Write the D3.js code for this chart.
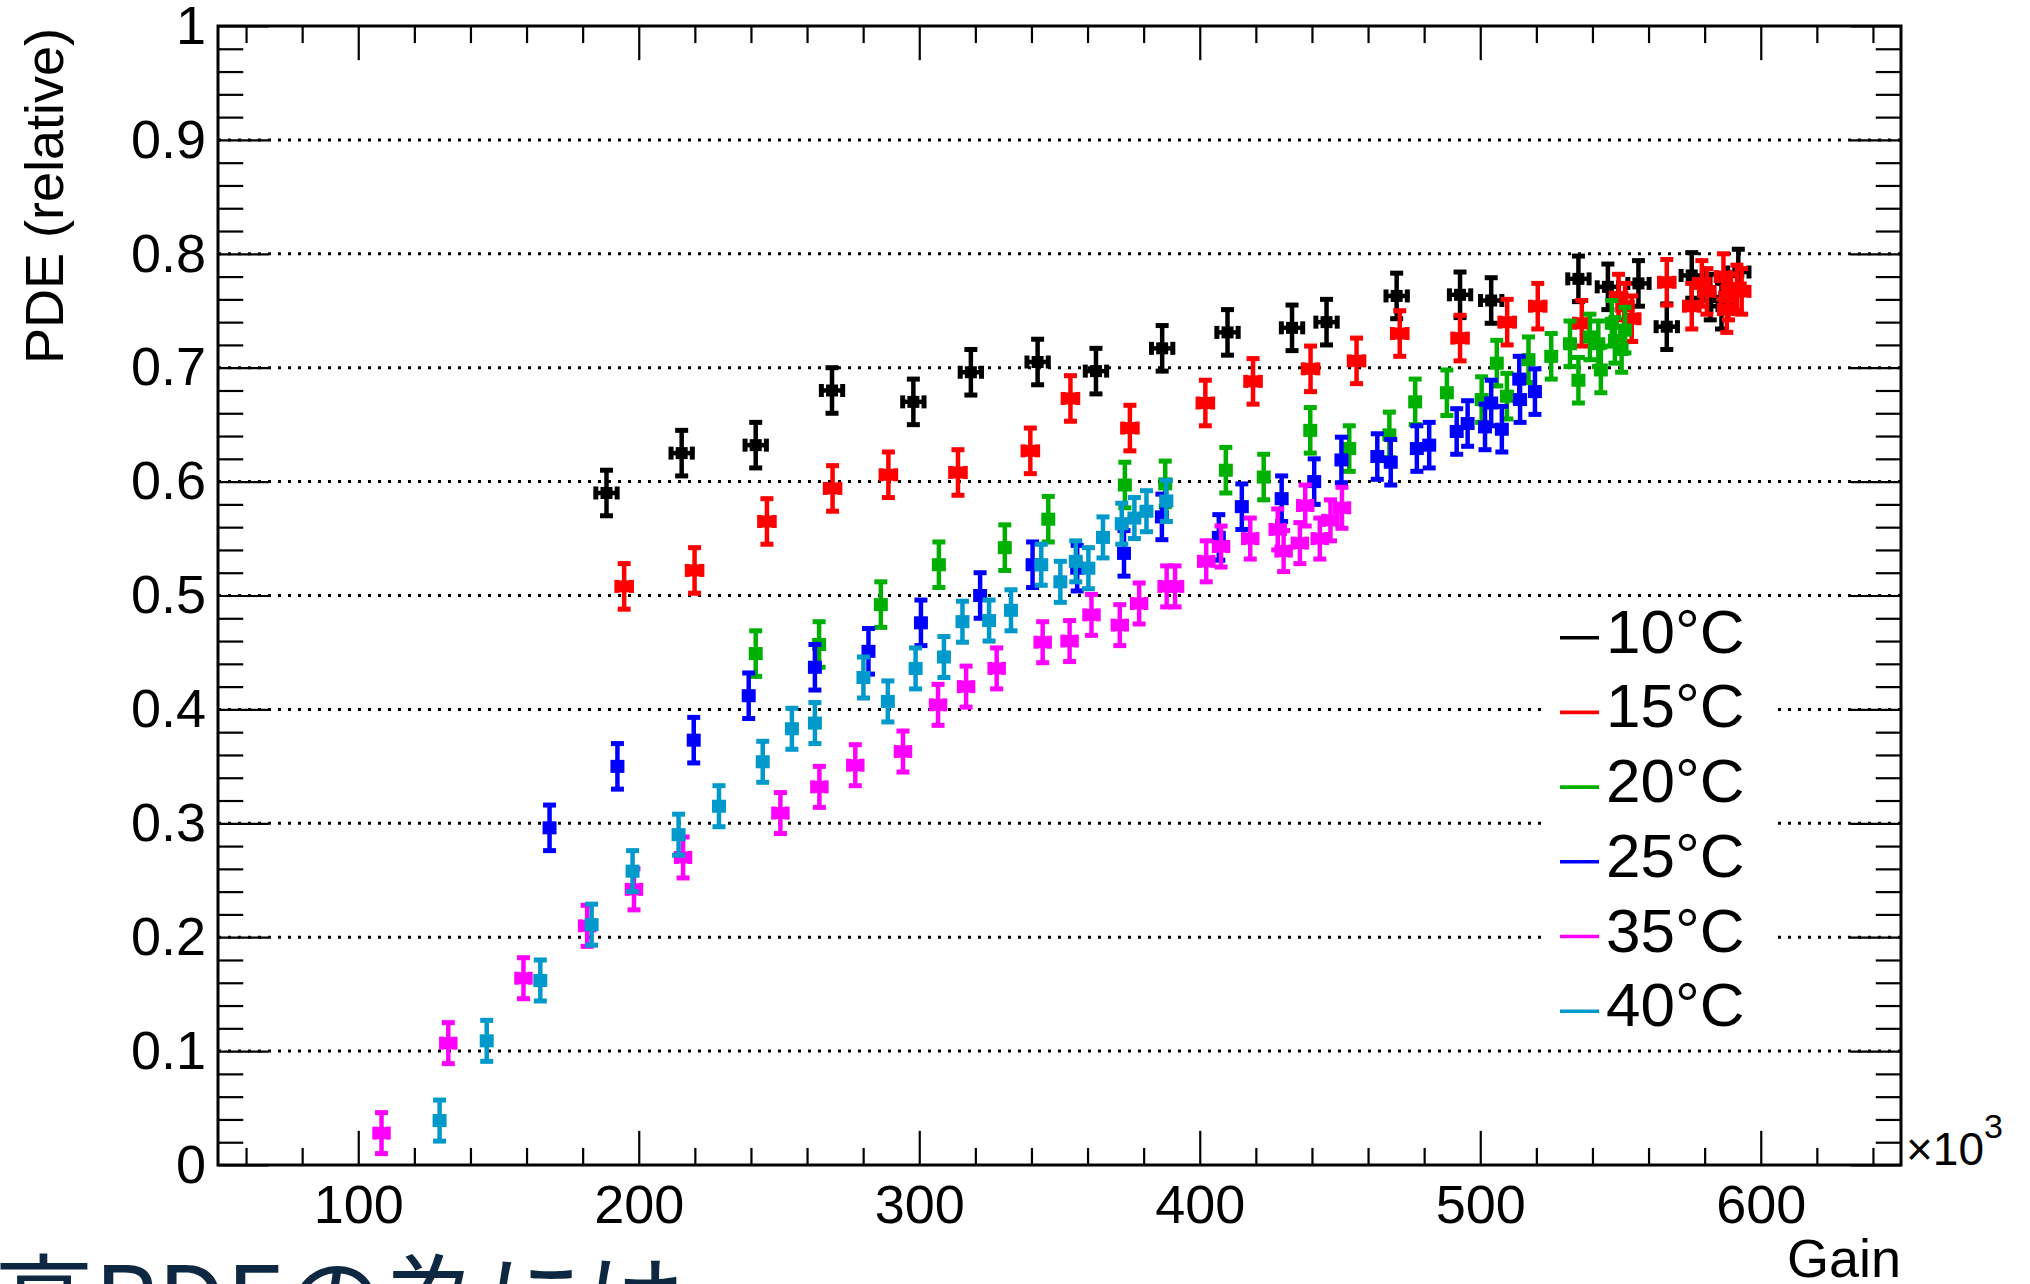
<!DOCTYPE html>
<html>
<head>
<meta charset="utf-8">
<script src="https://cdn.jsdelivr.net/npm/d3@7"></script>
<style>
  html, body { margin: 0; padding: 0; background: #fff; overflow: hidden; }
  svg { display: block; font-family: "Liberation Sans", Arial, Helvetica, sans-serif; }
</style>
</head>
<body>
<div id="chart"></div>
<script>
// data, gain in units of 10^3
var temps = ['10°C', '15°C', '20°C', '25°C', '35°C', '40°C'];
var colors = ['#000000', '#ff0000', '#00b000', '#0000ff', '#ff00ff', '#0099cc'];

var gain10 = [188.5, 215.3, 241.7, 268.9, 297.9, 318.4, 342.2, 363, 386.6, 409.9, 432.9, 445.2, 470.2, 492.8, 503.9, 535, 545.5, 556.4, 566.5, 575.4, 582, 586, 592];
var pde10  = [0.590, 0.625, 0.632, 0.680, 0.670, 0.696, 0.705, 0.697, 0.717, 0.731, 0.735, 0.740, 0.763, 0.764, 0.759, 0.778, 0.771, 0.774, 0.736, 0.781, 0.762, 0.754, 0.784];

var gain15 = [194.8, 219.9, 245.7, 269.1, 289, 313.8, 339.6, 353.9, 375.1, 402, 419, 439.5, 455.9, 471.3, 492.8, 509.6, 520.5, 536.2, 549.3, 551.6, 554, 566.5, 575.4, 579, 580.8, 586.7, 587.9, 588.5, 591.5, 593.2];
var pde15  = [0.508, 0.522, 0.565, 0.594, 0.606, 0.608, 0.627, 0.673, 0.647, 0.669, 0.688, 0.699, 0.706, 0.730, 0.726, 0.740, 0.754, 0.739, 0.762, 0.754, 0.743, 0.775, 0.754, 0.774, 0.767, 0.780, 0.751, 0.762, 0.770, 0.767];

var gain20 = [241.7, 264.3, 286.3, 307, 330.5, 346, 373.3, 387.7, 409.3, 422.8, 439.4, 453.3, 467.6, 476.8, 488.1, 500.5, 505.9, 509.5, 517.2, 525.3, 532, 535, 539.1, 542.1, 543, 546.9, 548, 550.4, 551.6];
var pde20  = [0.449, 0.457, 0.492, 0.527, 0.542, 0.567, 0.597, 0.598, 0.610, 0.604, 0.645, 0.629, 0.641, 0.670, 0.678, 0.672, 0.704, 0.675, 0.707, 0.710, 0.721, 0.689, 0.727, 0.721, 0.698, 0.739, 0.724, 0.716, 0.733];

var gain25 = [168.2, 192.4, 219.6, 239.2, 262.8, 281.9, 300.6, 321.7, 340.4, 356.3, 373, 386.5, 406.8, 415, 429.2, 440.8, 450.5, 463.3, 468.1, 477.4, 481.8, 491.6, 495.5, 501.7, 503.9, 507.7, 513.9, 514.2, 519.5];
var pde25  = [0.296, 0.350, 0.373, 0.412, 0.437, 0.451, 0.476, 0.500, 0.527, 0.524, 0.537, 0.569, 0.551, 0.578, 0.585, 0.600, 0.619, 0.622, 0.617, 0.629, 0.632, 0.644, 0.651, 0.648, 0.669, 0.646, 0.690, 0.672, 0.679];

var gain35 = [108.3, 132.1, 158.9, 181.6, 198.3, 215.8, 250.5, 264.4, 277.2, 294.2, 306.7, 316.7, 327.6, 344, 353.6, 361.4, 371.5, 378.4, 388.2, 391.2, 402.3, 407.6, 418, 427.8, 429.9, 435.7, 437.6, 442.8, 446.6, 450.7];
var pde35  = [0.028, 0.107, 0.164, 0.210, 0.242, 0.270, 0.309, 0.332, 0.351, 0.363, 0.404, 0.420, 0.436, 0.459, 0.460, 0.483, 0.474, 0.493, 0.508, 0.508, 0.530, 0.543, 0.550, 0.558, 0.539, 0.546, 0.579, 0.550, 0.566, 0.577];

var gain40 = [129, 145.8, 164.9, 183.2, 197.8, 214.2, 228.6, 244.2, 254.6, 262.8, 280.1, 288.8, 298.7, 308.8, 315.4, 324.9, 332.7, 343.5, 350.3, 355.8, 360.3, 365.5, 372.2, 376.7, 381, 388.1];
var pde40  = [0.039, 0.109, 0.162, 0.211, 0.258, 0.290, 0.315, 0.354, 0.383, 0.388, 0.428, 0.407, 0.436, 0.446, 0.477, 0.478, 0.487, 0.527, 0.512, 0.530, 0.524, 0.551, 0.563, 0.568, 0.574, 0.583];

// error sizes per series (x in 10^3, y in PDE)
var xErr = [3.8, 2.6, 1.6, 1.6, 2.4, 1.6];
var yErr = [0.020, 0.020, 0.020, 0.020, 0.018, 0.018];

// axis ticks
var xMajor = [100, 200, 300, 400, 500, 600];
var yMajor = [0, 0.1, 0.2, 0.3, 0.4, 0.5, 0.6, 0.7, 0.8, 0.9, 1];

(function(window, d3){

    var W = 2030, H = 1284;
    var frame = {left: 218, right: 1901, top: 26, bottom: 1165};

    var gains = [gain10, gain15, gain20, gain25, gain35, gain40];
    var pdes = [pde10, pde15, pde20, pde25, pde35, pde40];

    //build series from the arrays
    var series = temps.map(function(t, i){
        return {
            name: t,
            color: colors[i],
            xe: xErr[i],
            ye: yErr[i],
            points: gains[i].map(function(g, j){ return {g: g, p: pdes[i][j]}; })
        };
    });

    var svg = d3.select('#chart').append('svg')
        .attr('width', W)
        .attr('height', H)
        .attr('viewBox', '0 0 ' + W + ' ' + H);

    svg.append('rect').attr('width', W).attr('height', H).attr('fill', '#fff');

    var x = d3.scaleLinear().domain([50, 650]).range([frame.left, frame.right]);
    var y = d3.scaleLinear().domain([0, 1]).range([frame.bottom, frame.top]);

    var pw = frame.right - frame.left,
        ph = frame.bottom - frame.top;

    var xMinor = d3.range(60, 650, 20).filter(function(v){ return xMajor.indexOf(v) < 0; });
    var yMinor = d3.range(0, 51).map(function(i){ return i / 50; })
        .filter(function(v){ return Math.round(v * 50) % 5 !== 0; });

    // dotted grid at y majors
    svg.append('g').attr('class', 'grid')
        .selectAll('line')
        .data(yMajor.filter(function(v){ return v > 0 && v < 1; }))
        .enter().append('line')
        .attr('x1', frame.left).attr('x2', frame.right)
        .attr('y1', function(d){ return y(d); })
        .attr('y2', function(d){ return y(d); })
        .attr('stroke', '#000')
        .attr('stroke-width', 3)
        .attr('stroke-dasharray', '3 7');

    // ticks, root style (inside, on all 4 sides)
    var tickLenX = ph * 0.03, tickLenY = pw * 0.03;
    var fmt = d3.format('~g');

    var styleAxis = function(g){
        g.select('.domain').remove();
        g.selectAll('.tick line').attr('stroke', '#000').attr('stroke-width', 2.2);
        g.selectAll('.tick text').attr('fill', '#000').attr('font-size', 54)
            .attr('font-family', '"Liberation Sans", Arial, Helvetica, sans-serif');
    };

    svg.append('g').attr('transform', 'translate(0,' + frame.bottom + ')')
        .call(d3.axisBottom(x).tickValues(xMajor).tickSize(-tickLenX).tickPadding(20).tickFormat(fmt))
        .call(styleAxis);
    svg.append('g').attr('transform', 'translate(0,' + frame.bottom + ')')
        .call(d3.axisBottom(x).tickValues(xMinor).tickSize(-tickLenX / 2).tickFormat(''))
        .call(styleAxis);
    svg.append('g').attr('transform', 'translate(0,' + frame.top + ')')
        .call(d3.axisTop(x).tickValues(xMajor).tickSize(-tickLenX).tickFormat(''))
        .call(styleAxis);
    svg.append('g').attr('transform', 'translate(0,' + frame.top + ')')
        .call(d3.axisTop(x).tickValues(xMinor).tickSize(-tickLenX / 2).tickFormat(''))
        .call(styleAxis);

    svg.append('g').attr('transform', 'translate(' + frame.left + ',0)')
        .call(d3.axisLeft(y).tickValues(yMajor).tickSize(-tickLenY).tickPadding(12).tickFormat(fmt))
        .call(styleAxis);
    svg.append('g').attr('transform', 'translate(' + frame.left + ',0)')
        .call(d3.axisLeft(y).tickValues(yMinor).tickSize(-tickLenY / 2).tickFormat(''))
        .call(styleAxis);
    svg.append('g').attr('transform', 'translate(' + frame.right + ',0)')
        .call(d3.axisRight(y).tickValues(yMajor).tickSize(-tickLenY).tickFormat(''))
        .call(styleAxis);
    svg.append('g').attr('transform', 'translate(' + frame.right + ',0)')
        .call(d3.axisRight(y).tickValues(yMinor).tickSize(-tickLenY / 2).tickFormat(''))
        .call(styleAxis);

    // frame box
    svg.append('rect')
        .attr('x', frame.left).attr('y', frame.top)
        .attr('width', pw).attr('height', ph)
        .attr('fill', 'none').attr('stroke', '#000').attr('stroke-width', 3);

    // points with error bars + caps
    var capW = 13, capT = 5, lw = 4.5, sq = 12;
    var plot = svg.append('g').attr('class', 'points');

    series.forEach(function(s){
        var g = plot.append('g').attr('fill', s.color).attr('stroke', s.color);
        var pts = g.selectAll('g.pt').data(s.points).enter().append('g').attr('class', 'pt');

        // vertical bar
        pts.append('line')
            .attr('x1', function(d){ return x(d.g); }).attr('x2', function(d){ return x(d.g); })
            .attr('y1', function(d){ return y(d.p - s.ye); })
            .attr('y2', function(d){ return y(d.p + s.ye); })
            .attr('stroke-width', lw);
        // horizontal bar
        pts.append('line')
            .attr('x1', function(d){ return x(d.g - s.xe); }).attr('x2', function(d){ return x(d.g + s.xe); })
            .attr('y1', function(d){ return y(d.p); }).attr('y2', function(d){ return y(d.p); })
            .attr('stroke-width', lw);

        [-1, 1].forEach(function(k){
            pts.append('rect')
                .attr('stroke', 'none')
                .attr('x', function(d){ return x(d.g) - capW / 2; })
                .attr('y', function(d){ return y(d.p + k * s.ye) - capT / 2; })
                .attr('width', capW).attr('height', capT);
            pts.append('rect')
                .attr('stroke', 'none')
                .attr('x', function(d){ return x(d.g + k * s.xe) - capT / 2; })
                .attr('y', function(d){ return y(d.p) - capW / 2; })
                .attr('width', capT).attr('height', capW);
        });

        pts.append('rect')
            .attr('stroke', 'none')
            .attr('x', function(d){ return x(d.g) - sq / 2; })
            .attr('y', function(d){ return y(d.p) - sq / 2; })
            .attr('width', sq).attr('height', sq);
    });

    // legend
    var leg = svg.append('g').attr('class', 'legend');
    leg.append('rect')
        .attr('x', 1547).attr('y', 602)
        .attr('width', 229).attr('height', 442)
        .attr('fill', '#fff');

    var rowH = 74.7, firstBase = 652.7;
    var rows = leg.selectAll('g.row').data(series).enter().append('g').attr('class', 'row')
        .attr('transform', function(d, i){ return 'translate(0,' + (firstBase + i * rowH) + ')'; });
    rows.append('line')
        .attr('x1', 1560).attr('x2', 1599)
        .attr('y1', -15).attr('y2', -15)
        .attr('stroke', function(d){ return d.color; })
        .attr('stroke-width', 3.6);
    rows.append('text')
        .attr('x', 1606).attr('y', 0)
        .attr('font-size', 62)
        .attr('fill', '#000')
        .text(function(d){ return d.name; });

    // axis titles
    svg.append('text')
        .attr('transform', 'translate(63,28) rotate(-90)')
        .attr('text-anchor', 'end')
        .attr('font-size', 54)
        .text('PDE (relative)');

    svg.append('text')
        .attr('x', frame.right).attr('y', 1277)
        .attr('text-anchor', 'end')
        .attr('font-size', 54)
        .text('Gain');

    var mult = svg.append('text')
        .attr('x', 1906).attr('y', 1165)
        .attr('font-size', 46);
    mult.append('tspan').text('×10');
    mult.append('tspan').attr('font-size', 34).attr('dy', -27).text('3');

    // slide text cut off at the bottom
    svg.append('text')
        .attr('x', -6).attr('y', 1338)
        .attr('font-size', 100)
        .attr('font-family', '"Noto Sans CJK JP", "Noto Sans", sans-serif')
        .attr('fill', '#0e2841')
        .text('高PDEの為には');

}(window, d3));
</script>
</body>
</html>
